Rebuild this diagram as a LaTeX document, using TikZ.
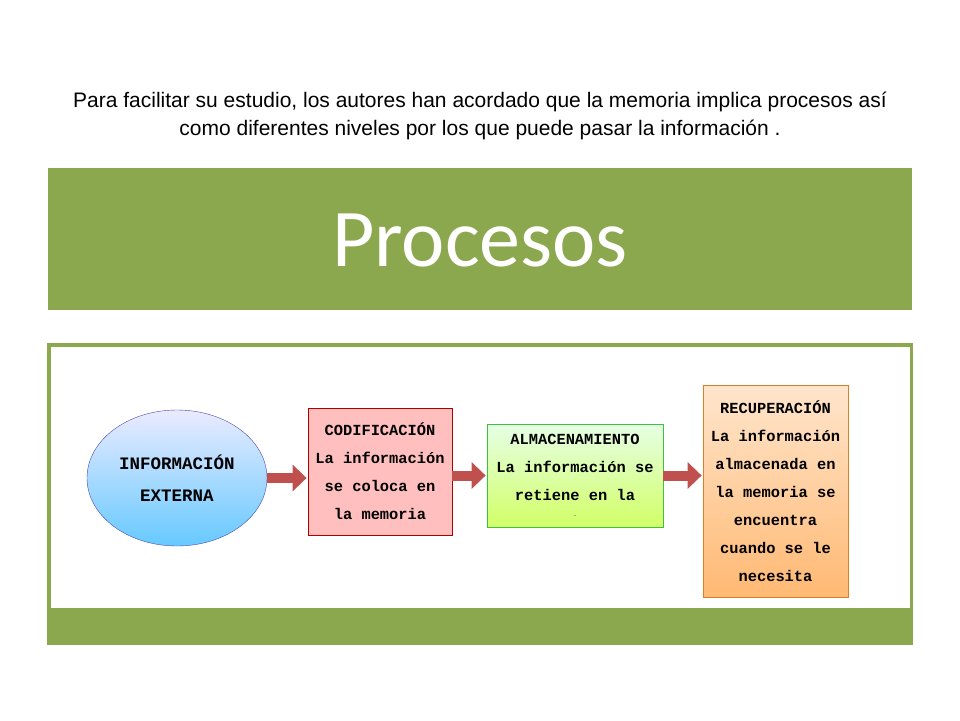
\documentclass[tikz,border=0pt]{standalone}
\usepackage{fontspec}
\setmainfont{Liberation Sans}
\newfontfamily\titlefont{Carlito}
\newfontfamily\boxfont{Liberation Mono}
\usetikzlibrary{arrows.meta,shapes.geometric}
\definecolor{olive}{HTML}{8CA84E}
\definecolor{arrowred}{HTML}{C0504D}
\tikzset{
  proc/.style={draw=#1!70!black, line width=0.8pt, align=center, font=\boxfont\fontsize{15.4}{28}\selectfont\bfseries, inner sep=2pt},
  fat/.style={-{Triangle[length=14pt,width=26pt]}, line width=10pt, draw=arrowred, shorten >=1pt}
}
\begin{document}
\begin{tikzpicture}[x=1pt,y=-1pt]
\useasboundingbox (0,0) rectangle (960,720);
\fill[white] (0,0) rectangle (960,720);
\node[font=\fontsize{21}{28}\selectfont, align=center] (t) at (480,116) {Para facilitar su estudio, los autores han acordado que la memoria implica procesos así\\como diferentes niveles por los que puede pasar la información .};
\fill[olive] (48,168) rectangle (912,310);
\node[text=white, font=\titlefont\fontsize{82}{90}\selectfont] (h) at (480,240) {Procesos};
\fill[olive] (47,343) rectangle (913,645);
\fill[white] (51,347) rectangle (910,608);
\node[ellipse, draw=blue!40!gray, top color=blue!8, bottom color=blue!35!cyan!60, minimum width=180pt, minimum height=136pt, align=center, font=\boxfont\fontsize{17.5}{32}\selectfont\bfseries] (e) at (177,478) {INFORMACIÓN\\EXTERNA};
\node[proc=red, fill=red!25, minimum width=144pt, minimum height=127pt] (c) at (380,471.5) {CODIFICACIÓN\\La información\\se coloca en\\la memoria};
\node[proc=green, top color=green!10!white, bottom color=green!30!yellow!60, draw=green!50!gray, minimum width=176pt, minimum height=103pt] (a) at (575,475.5) {ALMACENAMIENTO\\La información se\\retiene en la\\[-12pt]{\tiny .}};
\node[proc=orange, top color=orange!20, bottom color=orange!55, draw=orange!70!gray, minimum width=145pt, minimum height=212pt] (r) at (775.5,491) {RECUPERACIÓN\\La información\\almacenada en\\la memoria se\\encuentra\\cuando se le\\necesita};
\draw[fat] (e.east) -- (c.west|-e.east);
\draw[fat] (c.east|-a.west) -- (a.west);
\draw[fat] (a.east) -- (r.west|-a.east);
\end{tikzpicture}
\end{document}
